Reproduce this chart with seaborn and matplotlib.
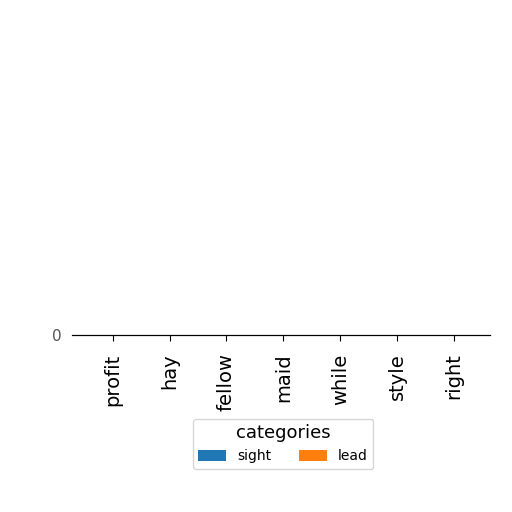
import pandas as pd
import matplotlib
matplotlib.use("Agg")
import matplotlib.pyplot as plt
from matplotlib.patches import Patch
import seaborn as sns

# categories aur series values (bars are flat in the reference)
categories = ['profit', 'hay', 'fellow', 'maid', 'while', 'style', 'right']
sight = [0, 0, 0, 0, 0, 0, 0]
lead = [0, 0, 0, 0, 0, 0, 0]
series_names = ['sight', 'lead']
colors = ['#1f77b4', '#ff7f0e']

plt.rcParams['font.family'] = ['DejaVu Sans']

df = pd.DataFrame({
    'item': categories * 2,
    'value': sight + lead,
    'categories': [series_names[0]] * len(categories) + [series_names[1]] * len(categories),
})

fig = plt.figure(figsize=(5.12, 5.12), dpi=100)
# plot area is squashed almost flat, like in the reference
ax = fig.add_axes([0.14, 0.345, 0.817, 0.0006])

sns.barplot(data=df, x='item', y='value', hue='categories',
            palette=colors, saturation=1, ax=ax, legend=False)

ax.set_xlim(-0.72, 6.63)
ax.set_ylim(0, 1)
ax.set_yticks([0])
ax.set_xlabel('')
ax.set_ylabel('')
ax.tick_params(axis='x', labelrotation=90, labelsize=14, length=4, pad=9)
ax.tick_params(axis='y', labelsize=11, length=0, pad=7, labelcolor='#555555')
for sp in ax.spines.values():
    sp.set_linewidth(0.8)

handles = [Patch(facecolor=c, label=n) for c, n in zip(colors, series_names)]
fig.legend(handles=handles, title='categories', ncol=2,
           loc='center', bbox_to_anchor=(0.553, 0.133),
           fontsize=10, title_fontsize=13, frameon=True, handleheight=0.9)

fig.savefig('out.png', dpi=100)
plt.close(fig)
